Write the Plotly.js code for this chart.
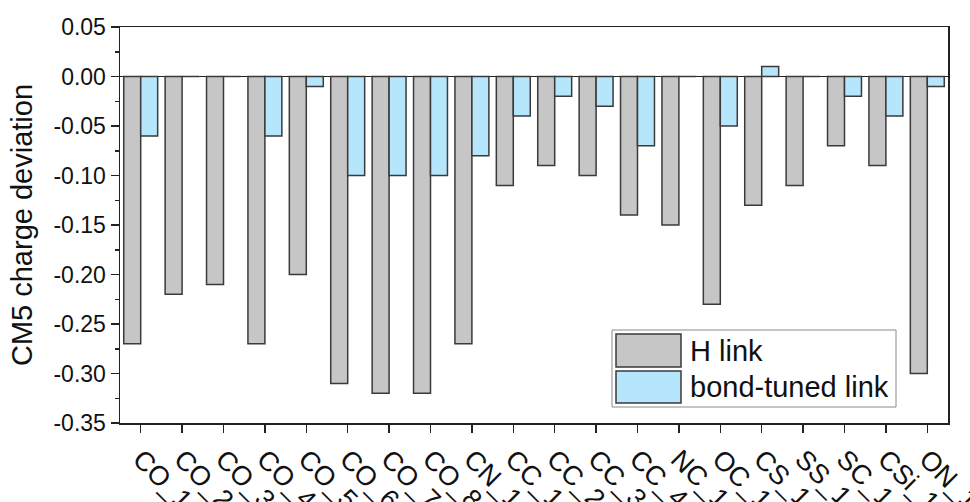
<!DOCTYPE html>
<html>
<head>
<meta charset="utf-8">
<script src="https://cdn.plot.ly/plotly-3.0.1.min.js"></script>
<style>html,body{margin:0;padding:0;background:#fff;}#chart{width:970px;height:502px;}</style>
</head>
<body>
<div id="chart"></div>
<script>
const categories = ["CO_1","CO_2","CO_3","CO_4","CO_5","CO_6","CO_7","CO_8","CN_1","CC_1","CC_2","CC_3","CC_4","NC_1","OC_1","CS_1","SS_1","SC_1","CSi_1","ON_1"];
const hLink = [-0.27,-0.22,-0.21,-0.27,-0.20,-0.31,-0.32,-0.32,-0.27,-0.11,-0.09,-0.10,-0.14,-0.15,-0.23,-0.13,-0.11,-0.07,-0.09,-0.30];
const bondTuned = [-0.06,0,0,-0.06,-0.01,-0.10,-0.10,-0.10,-0.08,-0.04,-0.02,-0.03,-0.07,0,-0.05,0.01,0,-0.02,-0.04,-0.01];
const yTickVals = [0.05,0,-0.05,-0.10,-0.15,-0.20,-0.25,-0.30,-0.35];
const yTickText = ["0.05","0.00","-0.05","-0.10","-0.15","-0.20","-0.25","-0.30","-0.35"];
const seriesNames = ["H link","bond-tuned link"];
const seriesColors = ["#c6c6c6","#b5e6fb"];

const font = "Liberation Sans, Arial, sans-serif";
const edge = '#3a3a3a';
const traces = [
  {type:'bar', name:seriesNames[0], x:categories, y:hLink, showlegend:false,
   marker:{color:seriesColors[0], line:{color:edge, width:1.5}}},
  {type:'bar', name:seriesNames[1], x:categories, y:bondTuned, showlegend:false,
   marker:{color:seriesColors[1], line:{color:edge, width:1.5}}}
];
// custom legend (pixel -> paper helpers)
const L=120, R=948, T=27, B=423;
const px = v => (v-L)/(R-L);
const py = v => (B-v)/(B-T);
const shapes = [
  {type:'rect', xref:'paper', yref:'paper', x0:px(612), x1:px(896), y0:py(407), y1:py(330),
   line:{color:'#8a8a8a', width:1}, fillcolor:'#fff'},
  {type:'rect', xref:'paper', yref:'paper', x0:px(616), x1:px(681), y0:py(367), y1:py(334),
   line:{color:edge, width:1.5}, fillcolor:seriesColors[0]},
  {type:'rect', xref:'paper', yref:'paper', x0:px(616), x1:px(681), y0:py(403), y1:py(371),
   line:{color:edge, width:1.5}, fillcolor:seriesColors[1]}
];
const annotations = [
  {xref:'paper', yref:'paper', x:px(688), y:py(351), xanchor:'left', yanchor:'middle', showarrow:false,
   text:seriesNames[0], font:{size:29, family:font, color:'#111'}},
  {xref:'paper', yref:'paper', x:px(688), y:py(387), xanchor:'left', yanchor:'middle', showarrow:false,
   text:seriesNames[1], font:{size:29, family:font, color:'#111'}}
];
const layout = {
  width:970, height:502,
  margin:{l:L, r:970-R, t:T, b:502-B},
  paper_bgcolor:'#fff', plot_bgcolor:'#fff',
  barmode:'group', bargap:0.18, bargroupgap:0,
  font:{family:font, color:'#111'},
  showlegend:false,
  shapes:shapes, annotations:annotations,
  xaxis:{type:'category', showline:true, linecolor:'#222', linewidth:1.5, mirror:true,
    ticks:'outside', ticklen:8, tickwidth:1.5, tickcolor:'#222',
    tickangle:45, tickfont:{size:27, family:font, color:'#111'},
    showgrid:false, zeroline:false, automargin:false},
  yaxis:{range:[-0.35,0.05], showline:true, linecolor:'#222', linewidth:1.5, mirror:true,
    ticks:'outside', ticklen:8, tickwidth:1.5, tickcolor:'#222',
    tickvals:yTickVals, ticktext:yTickText,
    tickfont:{size:23, family:font, color:'#111'},
    minor:{ticks:'outside', ticklen:4, tickwidth:1.5, tickcolor:'#222', dtick:0.025, tick0:0, showgrid:false},
    showgrid:false, zeroline:true, zerolinecolor:'#222', zerolinewidth:1.5, automargin:false,
    title:{text:'CM5 charge deviation', font:{size:29, family:font, color:'#111'}, standoff:12}}
};
Plotly.newPlot('chart', traces, layout, {displayModeBar:false, staticPlot:true});
</script>
</body>
</html>
